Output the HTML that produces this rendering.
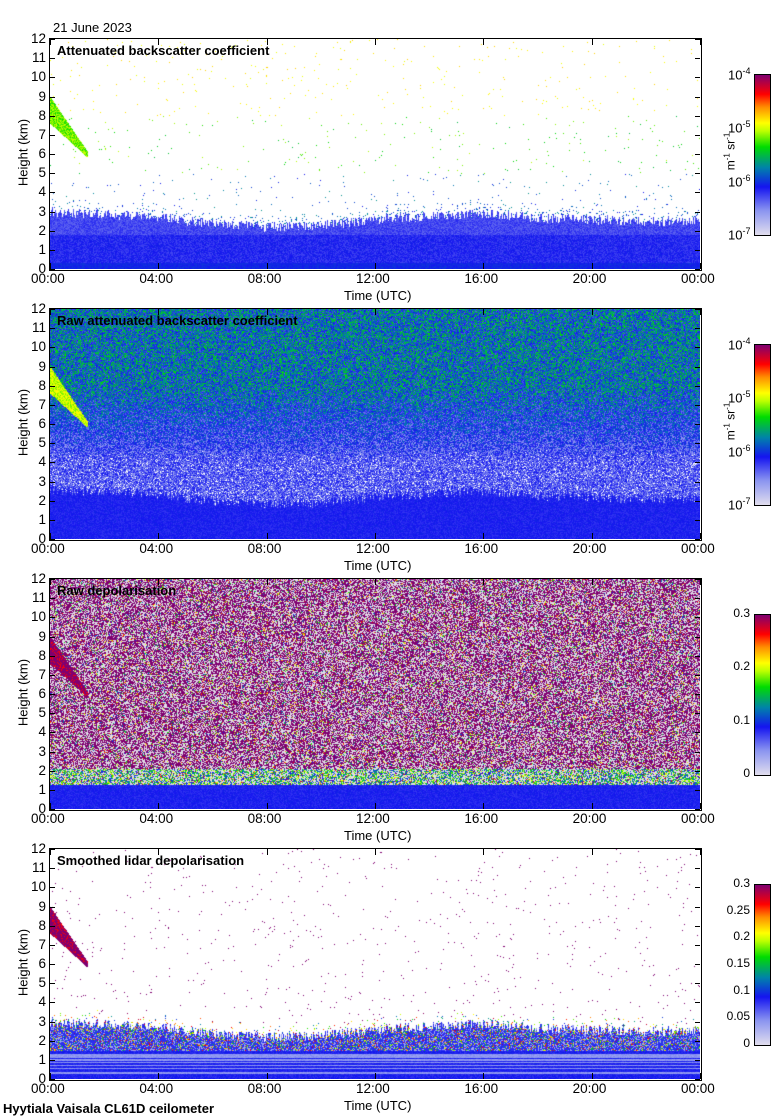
<!DOCTYPE html>
<html><head><meta charset="utf-8">
<style>
body{margin:0;background:#fff;width:780px;height:1120px;position:relative;overflow:hidden;font-family:"Liberation Sans",sans-serif;}
canvas{position:absolute;}
.t{position:absolute;font-size:13.5px;color:#000;white-space:nowrap;}
</style></head><body>
<div class="t" style="left:53px;top:20px;font-size:13px">21 June 2023</div>
<div class="t" style="left:3px;top:1101px;font-weight:bold;font-size:13px">Hyytiala Vaisala CL61D ceilometer</div>
<div id="root"></div>
<script>
// ---- data arrays ----
const panelTitles = ["Attenuated backscatter coefficient","Raw attenuated backscatter coefficient","Raw depolarisation","Smoothed lidar depolarisation"];
const heightTicks = [0,1,2,3,4,5,6,7,8,9,10,11,12];
const timeTicks = [0,4,8,12,16,20,24];
const timeLabels = ["00:00","04:00","08:00","12:00","16:00","20:00","00:00"];
const bscTicks = ["-4","-5","-6","-7"];
const depolTicks3 = ["0.3","0.2","0.1","0"];
const depolTicks4 = ["0.3","0.25","0.2","0.15","0.1","0.05","0"];
// boundary layer top (km) through the day, every 2h
const blTop = [3.0,2.9,2.7,2.4,2.2,2.3,2.6,2.8,2.9,2.7,2.6,2.5,2.6];
// cirrus: [t0,t1] hours, top km at t0/t1, bottom km at t0/t1
const cirrus = [0,1.4,9.0,6.1,7.6,5.8];

const L=50,W=650,H=230,TOPS=[39,309,579,849];
const root=document.getElementById('root');
function xs(t){return L+t/24*W;}
function ys(p,h){return TOPS[p]+H-h/12*H;}
function mk(tag,name,css,txt){const e=document.createElement(tag);


e.style.cssText=css;if(txt!==undefined)e.innerHTML=txt;root.appendChild(e);return e;}

const cmBsc=[[0,[225,222,238]],[0.15,[140,150,240]],[0.3,[20,20,240]],[0.42,[0,130,170]],[0.55,[0,220,0]],[0.65,[190,255,0]],[0.7,[255,255,0]],[0.8,[255,140,0]],[0.88,[255,0,0]],[1,[128,0,112]]];
function cmap(v){v=Math.max(0,Math.min(1,v));for(let i=1;i<cmBsc.length;i++){if(v<=cmBsc[i][0]){const a=cmBsc[i-1],b=cmBsc[i];const f=(v-a[0])/(b[0]-a[0]);return [0,1,2].map(k=>a[1][k]+(b[1][k]-a[1][k])*f);}}return cmBsc[cmBsc.length-1][1];}
function hash(x,y,s){let n=x*374761393+y*668265263+s*1442695041;n=(n^(n>>>13))*1274126177;n=n^(n>>>16);return ((n>>>0)%100000)/100000;}
function bl(t){const i=Math.min(11,Math.floor(t/2)),f=t/2-i;return blTop[i]*(1-f)+blTop[i+1]*f;}
function inCirrus(t,h){if(t<cirrus[0]||t>cirrus[1])return false;const f=(t-cirrus[0])/(cirrus[1]-cirrus[0]);const top=cirrus[2]+(cirrus[3]-cirrus[2])*f,bot=cirrus[4]+(cirrus[5]-cirrus[4])*f;return h<top&&h>bot;}

function val(p,px,py){
 const t=px/W*24;
 const hk=(H-py)/H*12;
 const r=hash(px,py,p+1),r2=hash(px,py,p+7);
 const b=bl(t)+ (hash(px,0,9)-0.5)*0.5;
 if(p===0){
  if(inCirrus(t,hk))return 0.55+r*0.12;
  if(hk<b){ if(hk<0.35)return 0.3+r2*0.04; return 0.24+r2*0.08-(hk>1.8?0.04:0);}
  const d=hk<b+0.5?0.08:0.006;
  if(r<d){ if(hk>8)return 0.68+r2*0.06; if(hk>5)return 0.5+r2*0.15; return 0.3+r2*0.15;}
  return -1;
 }
 if(p===1){
  if(inCirrus(t,hk))return 0.6+r2*0.12;
  if(hk<b-0.4) return 0.26+r2*0.06;
  const f=Math.max(0,Math.min(1,(hk-4)/4));
  const v=0.1+f*0.12+r2*(0.22+f*0.12);
  return v<0.12?-1:v;
 }
 if(p===2){
  if(hk<1.3){return 0.26+r2*0.06;}
  if(hk<2.1){ if(r2<0.45)return 0.25+r*0.45;}
  if(inCirrus(t,hk)) return r2<0.8?1:0.88;
  if(r2<0.5)return 1; if(r2<0.9)return -2; return 0.3+r*0.6;
 }
 if(inCirrus(t,hk)) return r2<0.75?1:0.9;
 if(hk<1.5){const s=hash(0,py,5);return s<0.25?0.12+r2*0.05:0.26+r2*0.06;}
 if(hk<b){ if(r2<0.22)return 0.3+hash(px,py,11)*0.7; return r2<0.75?0.27:0.12;}
 if(hk<b+0.5 && r<0.05) return 0.3+r2*0.7;
 if(r<0.006) return 1;
 return -1;
}

for(let p=0;p<4;p++){
 const c=document.createElement('canvas');c.width=W;c.height=H;
 
 
 c.style.left=L+'px';c.style.top=TOPS[p]+'px';root.appendChild(c);
 const ctx=c.getContext('2d');const img=ctx.createImageData(W,H);
 for(let y=0;y<H;y++)for(let x=0;x<W;x++){
  const v=val(p,x,y);let col;
  if(v===-2)col=[224,222,232];else if(v<0)col=[255,255,255];else col=cmap(v);
  const i=(y*W+x)*4;img.data[i]=col[0];img.data[i+1]=col[1];img.data[i+2]=col[2];img.data[i+3]=255;}
 ctx.putImageData(img,0,0);
 const top=TOPS[p];
 mk('div','plot-frame-'+(p+1),`position:absolute;left:${L-1}px;top:${top-1}px;width:${W+1}px;height:${H+1}px;border:1px solid #000;box-sizing:content-box;`);
 mk('div','panel-title-'+(p+1),`position:absolute;left:57px;top:${top+4}px;font-weight:bold;font-size:13px;white-space:nowrap`,panelTitles[p]);
 heightTicks.forEach(h=>{const y=ys(p,h);
  mk('div','y-tick',`position:absolute;left:${L}px;top:${y}px;width:5px;height:1px;background:#000`);
  mk('div','y-tick-right',`position:absolute;left:${L+W-5}px;top:${y}px;width:5px;height:1px;background:#000`);
  mk('div','y-tick-label',`position:absolute;right:${780-46}px;top:${y-8}px;font-size:13.5px`,h);});
 timeTicks.forEach((t,i)=>{const x=xs(t);
  mk('div','x-tick',`position:absolute;left:${x}px;top:${top+H-6}px;width:1px;height:6px;background:#000`);
  mk('div','x-tick-top',`position:absolute;left:${x}px;top:${top}px;width:1px;height:6px;background:#000`);
  mk('div','x-tick-label',`position:absolute;left:${x-19}px;top:${top+H+2}px;font-size:13.5px`,timeLabels[i]);});
 mk('div','x-axis-title',`position:absolute;left:344px;top:${top+H+19}px;font-size:13px`,'Time (UTC)');
 mk('div','y-axis-title',`position:absolute;left:-22px;top:${top+106}px;font-size:13px;transform:rotate(-90deg);width:90px;text-align:center`,'Height (km)');
 const cb=top+35,ch=160;
 const grad='linear-gradient(to top,'+cmBsc.map(s=>`rgb(${s[1].map(Math.round).join(',')}) ${s[0]*100}%`).join(',')+')';
 mk('div','colorbar-'+(p+1),`position:absolute;left:754px;top:${cb}px;width:15px;height:${ch}px;border:1px solid #000;background:${grad}`);
 if(p<2){
  bscTicks.forEach((e,i)=>mk('div','colorbar-tick-label',`position:absolute;left:728px;top:${cb+i*ch/3-8}px;font-size:13px`,`10<sup style="font-size:9px">${e}</sup>`));
  mk('div','colorbar-unit',`position:absolute;left:690px;top:${cb+70}px;font-size:12px;transform:rotate(-90deg);width:80px;text-align:center`,'m<sup style="font-size:8px">-1</sup> sr<sup style="font-size:8px">-1</sup>');
 } else {
  const tk=p===2?depolTicks3:depolTicks4;
  tk.forEach((s,i)=>mk('div','colorbar-tick-label',`position:absolute;right:${780-750}px;top:${cb+i*ch/(tk.length-1)-8}px;font-size:12px`,s));
 }
}
</script>
</body></html>
